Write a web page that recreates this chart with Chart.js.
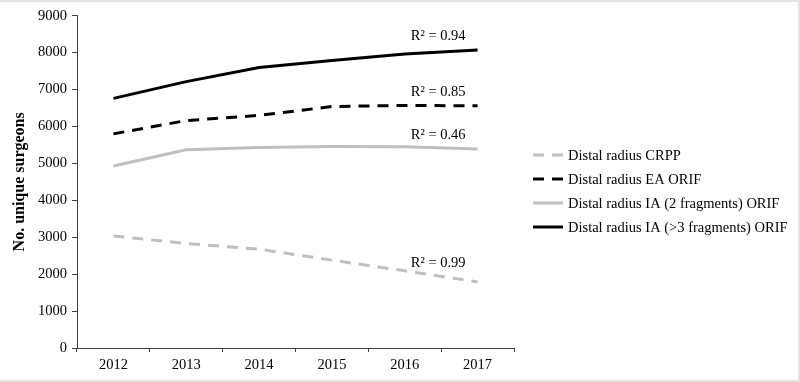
<!DOCTYPE html>
<html lang="en">
<head>
    <meta charset="UTF-8">
    <title>No. unique surgeons 2012-2017</title>
    <script src="https://cdn.jsdelivr.net/npm/chart.js"></script>
    <style>
        body {
            margin: 0;
            background: #fff;
        }

        /* moldura cinza clara em volta da figura */
        .frame {
            width: 800px;
            height: 382px;
            box-sizing: border-box;
            border-top: 2px solid #e2e2e2;
            border-right: 2px solid #e2e2e2;
            border-bottom: 2px solid #e2e2e2;
        }

        .chart-box {
            position: relative;
            width: 798px;
            height: 378px;
        }
    </style>
</head>
<body>

<div class="frame">
    <div class="chart-box">
        <canvas id="surgeonsChart"></canvas>
    </div>
</div>

<script>
    // dados
    const years = ['2012', '2013', '2014', '2015', '2016', '2017'];
    const crpp = [3035, 2830, 2675, 2380, 2090, 1790];
    const eaOrif = [5800, 6160, 6300, 6540, 6570, 6560];
    const ia2Orif = [4930, 5370, 5430, 5460, 5450, 5390];
    const ia3Orif = [6760, 7215, 7595, 7785, 7965, 8070];
    const seriesNames = [
        'Distal radius CRPP',
        'Distal radius EA ORIF',
        'Distal radius IA (2 fragments) ORIF',
        'Distal radius IA (>3 fragments) ORIF'
    ];
    const rSquared = ['0.99', '0.85', '0.46', '0.94'];

    const serif = '"Liberation Serif", "Times New Roman", serif';
    const gray = '#bfbfbf';
    const dash = [11, 8];

    // R² ao lado do último ponto de cada série
    const r2Labels = {
        id: 'r2Labels',
        afterDatasetsDraw(chart) {
            const ctx = chart.ctx;
            const lift = [19, 14, 14, 14];
            ctx.save();
            ctx.font = '14.5px ' + serif;
            ctx.fillStyle = '#000';
            ctx.textAlign = 'right';
            ctx.textBaseline = 'middle';
            chart.data.datasets.forEach((ds, i) => {
                const pts = chart.getDatasetMeta(i).data;
                const last = pts[pts.length - 1];
                ctx.fillText('R² = ' + rSquared[i], last.x - 12, last.y - lift[i]);
            });
            ctx.restore();
        }
    };

    // legenda à direita, desenhada à mão
    const sideLegend = {
        id: 'sideLegend',
        afterDraw(chart) {
            const ctx = chart.ctx;
            const x0 = chart.chartArea.right + 19;
            const step = 24;
            const n = chart.data.datasets.length;
            let y = chart.height / 2 - (n - 1) * step / 2;
            ctx.save();
            ctx.font = '14.5px ' + serif;
            ctx.textBaseline = 'middle';
            ctx.textAlign = 'left';
            chart.data.datasets.forEach(ds => {
                ctx.beginPath();
                ctx.setLineDash(ds.borderDash || []);
                ctx.strokeStyle = ds.borderColor;
                ctx.lineWidth = 3;
                ctx.moveTo(x0, y);
                ctx.lineTo(x0 + 30, y);
                ctx.stroke();
                ctx.setLineDash([]);
                ctx.fillStyle = '#000';
                ctx.fillText(ds.label, x0 + 35, y + 1);
                y += step;
            });
            ctx.restore();
        }
    };

    const ctx = document.getElementById('surgeonsChart').getContext('2d');
    new Chart(ctx, {
        type: 'line',
        data: {
            labels: years,
            datasets: [
                { label: seriesNames[0], data: crpp, borderColor: gray, borderDash: dash },
                { label: seriesNames[1], data: eaOrif, borderColor: '#000', borderDash: dash },
                { label: seriesNames[2], data: ia2Orif, borderColor: gray },
                { label: seriesNames[3], data: ia3Orif, borderColor: '#000' }
            ]
        },
        options: {
            responsive: true,
            maintainAspectRatio: false,
            animation: false,
            layout: {
                padding: { top: 13, right: 284, bottom: 0, left: 0 }
            },
            elements: {
                line: { borderWidth: 3, tension: 0, fill: false },
                point: { radius: 0 }
            },
            plugins: {
                legend: { display: false },
                tooltip: { enabled: false }
            },
            scales: {
                x: {
                    offset: true,
                    grid: {
                        offset: true,
                        drawOnChartArea: false,
                        tickLength: 4,
                        color: '#404040'
                    },
                    border: { color: '#404040', width: 1 },
                    ticks: {
                        color: '#000',
                        padding: 4,
                        font: { family: serif, size: 14.5 }
                    },
                    afterFit: s => { s.height = 32; }
                },
                y: {
                    min: 0,
                    max: 9000,
                    ticks: {
                        stepSize: 1000,
                        color: '#000',
                        padding: 5,
                        font: { family: serif, size: 14.5 },
                        callback: v => String(v)
                    },
                    grid: {
                        drawOnChartArea: false,
                        tickLength: 5,
                        color: '#404040'
                    },
                    border: { color: '#404040', width: 1 },
                    title: {
                        display: true,
                        text: 'No. unique surgeons',
                        color: '#000',
                        padding: { top: 10, bottom: 0 },
                        font: { family: serif, size: 16, weight: 'bold' }
                    },
                    afterFit: s => { s.width = 77; }
                }
            }
        },
        plugins: [r2Labels, sideLegend]
    });
</script>

</body>
</html>
